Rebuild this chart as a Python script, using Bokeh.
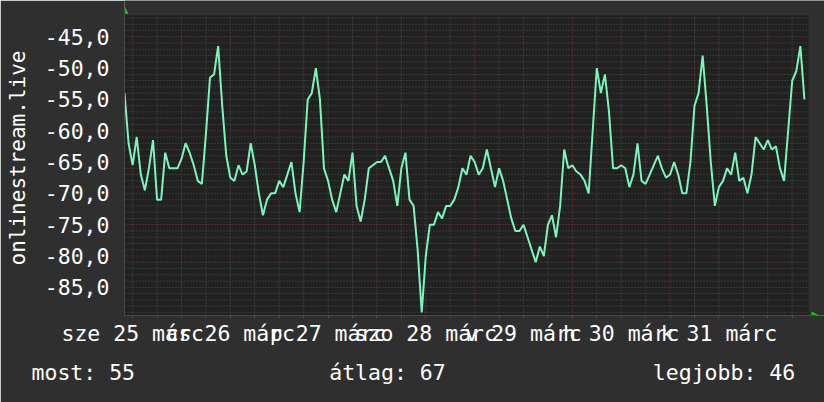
from bokeh.plotting import figure
from bokeh.models import FixedTicker, Range1d, Title
from bokeh.embed import file_html
from bokeh.resources import INLINE

# hours since midnight, 25 March
hours = list(range(10, 178))
signal = [
    -54, -62, -65.5, -61, -67, -69.5, -66, -61.5, -71, -71,
    -63.5, -66, -66, -66, -64.5, -62, -63.5, -65.5, -68, -68.5,
    -60.5, -51.5, -51, -46.5, -56, -64, -67.5, -68, -65.5, -67,
    -66.5, -62, -65.5, -70, -73.5, -71, -70, -70, -68, -69,
    -67, -65, -70, -73, -65, -55, -54, -50, -55, -66,
    -68, -71, -73, -70, -67, -68, -63.5, -72, -74.5, -71,
    -66, -65.5, -65, -65, -64, -66, -68, -72, -66, -63.5,
    -71, -72, -79, -89, -80, -75, -75, -73, -74, -72,
    -72, -71, -69, -66, -67, -64, -65, -67, -66, -63,
    -66, -69, -66, -68, -71, -74, -76, -76, -75, -77,
    -79, -81, -78.5, -80, -75, -73.5, -77, -72, -63, -66,
    -65.5, -66.5, -67, -68, -70, -60, -50, -54, -51, -57,
    -66, -66, -65.5, -66, -69, -67, -62, -68, -68.5, -67,
    -65.5, -64, -66, -67.5, -67, -65, -67, -70, -70, -65,
    -56, -54, -48, -56, -65, -72, -69, -68, -66, -67,
    -63.5, -68, -67.5, -70, -67, -61, -62, -63, -61.5, -63,
    -62.5, -66, -68, -60, -52, -50.5, -46.5, -55,
]

day_label_hours = [12, 36, 60, 84, 108, 132, 156]
day_labels = ["sze 25 márc", "cs 26 márc", "p 27 márc", "szo 28 márc",
              "v 29 márc", "h 30 márc", "k 31 márc"]
y_ticks = [-85, -80, -75, -70, -65, -60, -55, -50, -45]
y_tick_labels = ["-85,0", "-80,0", "-75,0", "-70,0", "-65,0", "-60,0",
                 "-55,0", "-50,0", "-45,0"]
axis_title = "onlinestream.live"
stat_names = ["most", "átlag", "legjobb"]
stat_values = [55, 67, 46]

# plot area (data) and a slightly larger frame that also holds the axis arrows
X0, X1 = 10, 178
Y0, Y1 = -89.5, -41.6
PW, PH = 684, 300                      # plot-area size in px
XPX = (X1 - X0) / PW                   # data units per px
YPX = (Y1 - Y0) / PH
XF = X1 + 16 * XPX
YF = Y1 + 15 * YPX

FONT = "DejaVu Sans Mono"
FS = "21.5px"
BG = "#2f2f2f"
CANVAS = "#212121"
MINOR = "#525252"
MAJOR = "#7a3b3b"
AXIS = "#4a4a4a"
GREEN = "#00d000"
WHITE = "#ffffff"

p = figure(width=824, height=402, output_backend="svg", toolbar_location=None,
           x_range=Range1d(X0, XF), y_range=Range1d(Y0, YF),
           min_border_left=124, min_border_right=0, min_border_top=0,
           min_border_bottom=87,
           background_fill_color=BG, border_fill_color=BG,
           outline_line_color=None)
p.xgrid.visible = False
p.ygrid.visible = False

# dark plot area
p.quad(left=[X0], right=[X1], bottom=[Y0], top=[Y1], fill_color=CANVAS,
       line_color=None)

# grid lines, limited to the plot area
day_bounds = list(range(24, 178, 24))
six_h = [h for h in range(12, 178, 6) if h % 24 != 0]
y_minor = [v for v in range(-89, -41) if v % 5 != 0]
p.segment(x0=six_h, y0=[Y0] * len(six_h), x1=six_h, y1=[Y1] * len(six_h),
          line_color=MINOR, line_dash="1 2", line_width=1)
p.segment(x0=[X0] * len(y_minor), y0=y_minor, x1=[X1] * len(y_minor), y1=y_minor,
          line_color=MINOR, line_dash="1 2", line_width=1)
p.segment(x0=day_bounds, y0=[Y0] * len(day_bounds), x1=day_bounds,
          y1=[Y1] * len(day_bounds), line_color=MAJOR, line_dash="1 2", line_width=1)
p.segment(x0=[X0] * len(y_ticks), y0=y_ticks, x1=[X1] * len(y_ticks), y1=y_ticks,
          line_color=MAJOR, line_dash="1 2", line_width=1)

# x axis
xa = p.xaxis[0]
xa.bounds = (X0, X1 + 8 * XPX)
xa.ticker = FixedTicker(ticks=day_label_hours, minor_ticks=list(range(12, 178, 6)))
xa.major_label_overrides = {h: t for h, t in zip(day_label_hours, day_labels)}
xa.major_label_text_font = FONT
xa.major_label_text_font_size = FS
xa.major_label_text_color = WHITE
xa.major_label_standoff = 2
xa.axis_line_color = AXIS
xa.major_tick_line_color = AXIS
xa.minor_tick_line_color = AXIS
xa.major_tick_in = 0
xa.major_tick_out = 0
xa.minor_tick_in = 0
xa.minor_tick_out = 3

# y axis
ya = p.yaxis[0]
ya.bounds = (Y0, Y1 + 7 * YPX)
ya.ticker = FixedTicker(ticks=y_ticks, minor_ticks=[])
ya.major_label_overrides = {t: s for t, s in zip(y_ticks, y_tick_labels)}
ya.major_label_text_font = FONT
ya.major_label_text_font_size = FS
ya.major_label_text_color = WHITE
ya.major_label_standoff = 15
ya.major_tick_in = 0
ya.major_tick_out = 0
ya.minor_tick_in = 0
ya.minor_tick_out = 0
ya.axis_line_color = AXIS
ya.axis_label = axis_title
ya.axis_label_text_font = FONT
ya.axis_label_text_font_size = "21px"
ya.axis_label_text_font_style = "normal"
ya.axis_label_text_color = WHITE
ya.axis_label_standoff = 12

p.line(hours, signal, line_color="#7af5bc", line_width=2)

# green arrows at the ends of the axes
p.scatter(x=[X0], y=[Y1 + 4.3 * YPX], marker="triangle", size=7,
          fill_color=GREEN, line_color=GREEN)
p.scatter(x=[X1 + 5.5 * XPX], y=[Y0], marker="triangle", size=7, angle=-1.5708,
          fill_color=GREEN, line_color=GREEN)

# statistics row (one line, monospace, non-breaking spaces keep the columns)
nb = "\u00a0"
stats_line = (f"{stat_names[0]}: {stat_values[0]}" + nb * 15 +
              f"{stat_names[1]}: {stat_values[1]}" + nb * 16 +
              f"{stat_names[2]}: {stat_values[2]}")
p.add_layout(Title(text=stats_line, align="left", offset=-93, standoff=19,
                   text_font=FONT, text_font_size=FS, text_font_style="normal",
                   text_color=WHITE), "below")

open("out.html", "w").write(file_html(p, INLINE))
